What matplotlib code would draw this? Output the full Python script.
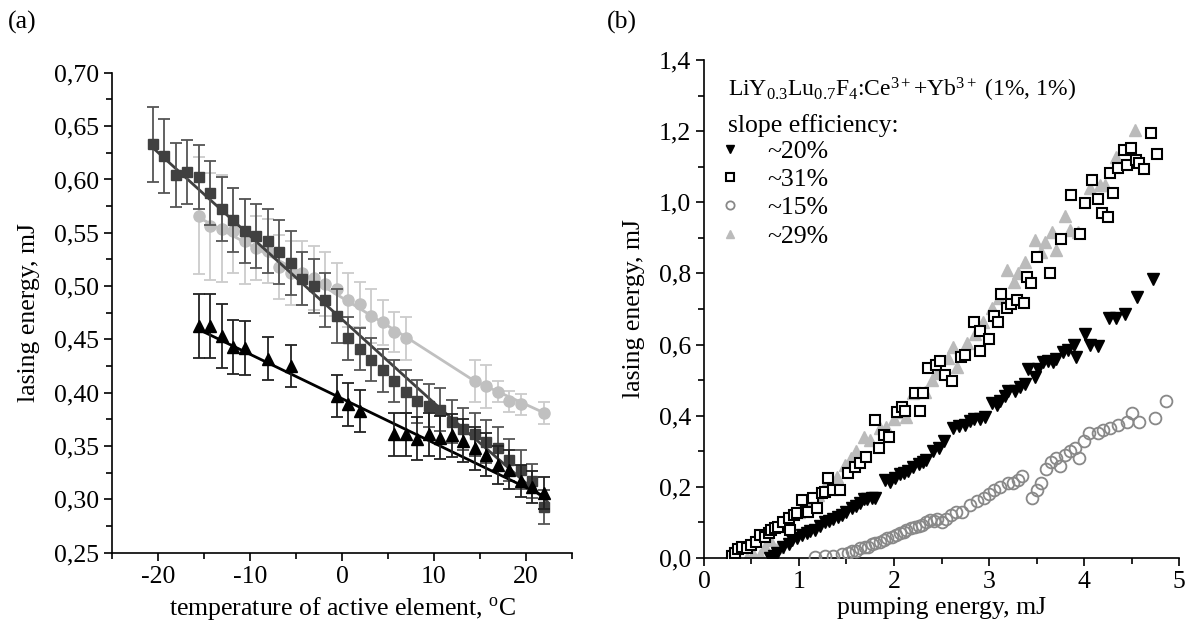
import numpy as np
import matplotlib
matplotlib.use("Agg")
import matplotlib.pyplot as plt
from matplotlib.ticker import MultipleLocator, FuncFormatter
from matplotlib.lines import Line2D

plt.rcParams['font.family'] = ['Liberation Serif', 'DejaVu Serif']
plt.rcParams['mathtext.fontset'] = 'custom'
plt.rcParams['mathtext.rm'] = 'Liberation Serif'
plt.rcParams['mathtext.it'] = 'Liberation Serif:italic'
plt.rcParams['axes.unicode_minus'] = False

# ---------- (a) lasing energy vs temperature ----------
sq_t = [-20.6, -19.3, -18.0, -16.8, -15.5, -14.3, -13.0, -11.8, -10.5, -9.3, -8.0, -6.8,
        -5.5, -4.3, -3.0, -1.8, -0.5, 0.7, 2.0, 3.2, 4.4, 5.7, 7.0, 8.2, 9.5, 10.7, 12.0,
        13.2, 14.4, 15.7, 17.0, 18.2, 19.5, 20.7, 22.0]
sq_e = [0.633, 0.622, 0.604, 0.607, 0.602, 0.587, 0.572, 0.562, 0.552, 0.547, 0.542, 0.532,
        0.522, 0.507, 0.500, 0.487, 0.472, 0.451, 0.441, 0.431, 0.421, 0.411, 0.401, 0.392,
        0.388, 0.384, 0.373, 0.366, 0.361, 0.354, 0.348, 0.337, 0.328, 0.317, 0.293]
sq_err = [0.035, 0.035, 0.03, 0.03, 0.03, 0.03, 0.03, 0.03, 0.03, 0.03, 0.03, 0.03, 0.03,
          0.025, 0.025, 0.025, 0.025, 0.02, 0.02, 0.02, 0.02, 0.02, 0.02, 0.02, 0.02, 0.02,
          0.02, 0.02, 0.02, 0.02, 0.02, 0.02, 0.018, 0.016, 0.016]
sq_fit_t = [-20.6, -4.5, 10.7, 22.3]
sq_fit_e = [0.630, 0.504, 0.385, 0.298]

ci_t = [-15.5, -14.3, -13.0, -11.8, -10.5, -9.3, -8.0, -6.8, -5.5, -4.3, -3.0, -1.8, -0.5,
        0.7, 2.0, 3.2, 4.4, 5.7, 7.0, 14.4, 15.7, 16.9, 18.2, 19.4, 22.0]
ci_e = [0.566, 0.556, 0.554, 0.552, 0.542, 0.536, 0.533, 0.518, 0.512, 0.512, 0.508, 0.502,
        0.497, 0.487, 0.483, 0.472, 0.466, 0.457, 0.451, 0.411, 0.406, 0.401, 0.392, 0.389, 0.381]
ci_err = [0.055, 0.05, 0.05, 0.04, 0.04, 0.03, 0.03, 0.03, 0.03, 0.03, 0.03, 0.03, 0.025,
          0.025, 0.021, 0.025, 0.021, 0.019, 0.02, 0.02, 0.02, 0.01, 0.01, 0.01, 0.01]
ci_fit_t = [-15.5, -4.5, 7.0, 14.4, 22.0]
ci_fit_e = [0.564, 0.513, 0.452, 0.411, 0.381]

tr_t = [-15.5, -14.3, -13.0, -11.8, -10.5, -8.0, -5.6, -0.6, 0.7, 2.0, 5.7, 7.0, 8.2, 9.5,
        10.7, 12.0, 13.2, 14.4, 15.7, 17.0, 18.2, 19.5, 20.7, 22.0]
tr_e = [0.463, 0.463, 0.453, 0.443, 0.442, 0.432, 0.425, 0.397, 0.389, 0.383, 0.361, 0.361,
        0.357, 0.361, 0.358, 0.360, 0.355, 0.348, 0.342, 0.332, 0.328, 0.317, 0.312, 0.306]
tr_err = [0.03, 0.03, 0.03, 0.025, 0.025, 0.02, 0.02, 0.02, 0.02, 0.02, 0.02, 0.02, 0.02,
          0.02, 0.02, 0.02, 0.02, 0.02, 0.02, 0.018, 0.018, 0.015, 0.015, 0.015]
tr_fit_t = [-15.5, 22.2]
tr_fit_e = [0.459, 0.302]

# ---------- (b) lasing energy vs pumping energy ----------
dn_x = [0.70, 0.74, 0.77, 0.83, 0.89, 0.93, 0.98, 1.03, 1.08, 1.12, 1.17, 1.22, 1.27, 1.32,
        1.36, 1.41, 1.45, 1.50, 1.56, 1.60, 1.64, 1.68, 1.72, 1.77, 1.80, 1.91, 1.96, 2.01,
        2.06, 2.11, 2.15, 2.20, 2.26, 2.30, 2.34, 2.41, 2.47, 2.53, 2.62, 2.68, 2.75, 2.80,
        2.84, 2.90, 2.96, 3.03, 3.08, 3.12, 3.17, 3.20, 3.27, 3.33, 3.38, 3.41, 3.48, 3.52,
        3.57, 3.62, 3.67, 3.71, 3.78, 3.83, 3.89, 3.92, 4.01, 4.06, 4.15, 4.26, 4.34, 4.43,
        4.56, 4.73]
dn_y = [0.0, 0.005, 0.015, 0.03, 0.04, 0.05, 0.055, 0.065, 0.07, 0.075, 0.08, 0.09, 0.1,
        0.105, 0.11, 0.115, 0.12, 0.13, 0.14, 0.145, 0.155, 0.165, 0.165, 0.17, 0.17, 0.22,
        0.215, 0.225, 0.235, 0.24, 0.245, 0.255, 0.265, 0.27, 0.275, 0.30, 0.31, 0.33, 0.365,
        0.37, 0.375, 0.385, 0.39, 0.39, 0.395, 0.435, 0.43, 0.44, 0.455, 0.47, 0.47, 0.48,
        0.49, 0.53, 0.51, 0.53, 0.55, 0.555, 0.55, 0.56, 0.58, 0.585, 0.60, 0.565, 0.63, 0.60,
        0.595, 0.675, 0.675, 0.685, 0.735, 0.785]

sq31_x = [0.30, 0.33, 0.36, 0.40, 0.45, 0.50, 0.55, 0.59, 0.64, 0.68, 0.71, 0.75, 0.78, 0.83,
          0.89, 0.91, 0.95, 0.98, 1.03, 1.07, 1.10, 1.15, 1.19, 1.24, 1.27, 1.31, 1.36, 1.43,
          1.52, 1.59, 1.64, 1.71, 1.80, 1.84, 1.89, 1.95, 2.03, 2.08, 2.12, 2.22, 2.27, 2.31,
          2.36, 2.44, 2.48, 2.54, 2.61, 2.70, 2.75, 2.84, 2.91, 2.91, 3.00, 3.05, 3.09, 3.13,
          3.19, 3.23, 3.29, 3.37, 3.40, 3.44, 3.50, 3.64, 3.76, 3.86, 3.96, 4.01, 4.08, 4.15,
          4.19, 4.25, 4.27, 4.30, 4.36, 4.42, 4.45, 4.49, 4.55, 4.58, 4.63, 4.70, 4.77]
sq31_y = [0.005, 0.015, 0.025, 0.03, 0.027, 0.037, 0.045, 0.065, 0.06, 0.07, 0.079, 0.085,
          0.088, 0.102, 0.112, 0.079, 0.12, 0.126, 0.163, 0.13, 0.13, 0.168, 0.14, 0.182,
          0.186, 0.224, 0.191, 0.191, 0.238, 0.257, 0.268, 0.283, 0.388, 0.308, 0.346, 0.339,
          0.411, 0.425, 0.414, 0.463, 0.414, 0.463, 0.533, 0.543, 0.555, 0.514, 0.498, 0.564,
          0.571, 0.664, 0.639, 0.583, 0.616, 0.68, 0.664, 0.742, 0.702, 0.714, 0.725, 0.718,
          0.791, 0.772, 0.845, 0.80, 0.896, 1.021, 0.911, 0.997, 1.063, 1.008, 0.969, 0.958,
          1.082, 1.025, 1.096, 1.147, 1.105, 1.152, 1.119, 1.111, 1.093, 1.194, 1.135]

c15_x = [1.17, 1.27, 1.36, 1.45, 1.52, 1.56, 1.60, 1.64, 1.69, 1.73, 1.77, 1.80, 1.85, 1.89,
         1.93, 1.98, 2.02, 2.06, 2.10, 2.13, 2.18, 2.22, 2.26, 2.29, 2.34, 2.38, 2.42, 2.45,
         2.50, 2.55, 2.60, 2.65, 2.72, 2.80, 2.87, 2.95, 3.00, 3.05, 3.12, 3.20, 3.25, 3.30,
         3.35, 3.45, 3.50, 3.55, 3.60, 3.65, 3.70, 3.75, 3.80, 3.85, 3.90, 3.95, 4.00, 4.05,
         4.15, 4.20, 4.27, 4.36, 4.45, 4.50, 4.58, 4.75, 4.86]
c15_y = [0.003, 0.005, 0.007, 0.01, 0.015, 0.02, 0.02, 0.027, 0.03, 0.032, 0.038, 0.043,
         0.045, 0.051, 0.055, 0.06, 0.065, 0.069, 0.072, 0.079, 0.083, 0.088, 0.09, 0.093,
         0.1, 0.107, 0.105, 0.109, 0.10, 0.11, 0.12, 0.13, 0.13, 0.15, 0.16, 0.17, 0.18, 0.19,
         0.20, 0.21, 0.21, 0.22, 0.23, 0.17, 0.19, 0.21, 0.25, 0.27, 0.28, 0.26, 0.29, 0.30,
         0.31, 0.28, 0.33, 0.35, 0.35, 0.36, 0.365, 0.374, 0.383, 0.407, 0.383, 0.393, 0.44]

t29_x = [0.45, 0.52, 0.59, 0.64, 0.70, 0.78, 0.86, 0.94, 1.00, 1.05, 1.12, 1.20, 1.29, 1.40,
         1.48, 1.55, 1.60, 1.68, 1.75, 1.85, 1.92, 2.00, 2.05, 2.13, 2.20, 2.33, 2.40, 2.45,
         2.57, 2.62, 2.66, 2.77, 2.85, 2.94, 3.03, 3.10, 3.19, 3.26, 3.30, 3.38, 3.48, 3.55,
         3.59, 3.66, 3.70, 3.80, 3.85, 3.94, 4.06, 4.17, 4.22, 4.34, 4.54]
t29_y = [0.0, 0.01, 0.008, 0.03, 0.05, 0.032, 0.09, 0.126, 0.13, 0.15, 0.163, 0.177, 0.215,
         0.229, 0.261, 0.28, 0.30, 0.341, 0.332, 0.365, 0.369, 0.39, 0.41, 0.397, 0.465, 0.468,
         0.50, 0.52, 0.561, 0.594, 0.538, 0.604, 0.63, 0.664, 0.702, 0.73, 0.81, 0.777, 0.80,
         0.833, 0.894, 0.86, 0.889, 0.917, 0.866, 0.96, 0.922, 0.917, 1.039, 1.049, 1.049,
         1.128, 1.203]

legend_labels = ["~20%", "~31%", "~15%", "~29%"]
header1 = r"LiY$_{0.3}$Lu$_{0.7}$F$_{4}$:Ce$^{3+}$+Yb$^{3+}$ (1%, 1%)"
header2 = "slope efficiency:"

FS = 18.5

fig = plt.figure(figsize=(11.92, 6.3), dpi=100)
axa = fig.add_axes([0.094, 0.1227, 0.3859, 0.7617])
axb = fig.add_axes([0.5906, 0.1143, 0.3985, 0.7905])

for ax in (axa, axb):
    ax.spines['top'].set_visible(False)
    ax.spines['right'].set_visible(False)
    for s in ('left', 'bottom'):
        ax.spines[s].set_linewidth(1.2)
    ax.tick_params(which='both', direction='out', labelsize=FS, width=1.2)
    ax.tick_params(which='major', length=6)
    ax.tick_params(which='minor', length=4)

# ----- panel (a)
axa.plot(ci_fit_t, ci_fit_e, color='#c0c0c0', lw=2, zorder=2)
axa.errorbar(ci_t, ci_e, yerr=ci_err, fmt='o', color='#c0c0c0', ecolor='#cccccc',
             ms=8, elinewidth=1.3, capsize=4, capthick=1.3, zorder=2)
axa.plot(sq_fit_t, sq_fit_e, color='#404040', lw=2, zorder=3)
axa.errorbar(sq_t, sq_e, yerr=sq_err, fmt='s', color='#404040', ecolor='#555555',
             ms=7, elinewidth=1.3, capsize=4, capthick=1.3, zorder=3)
axa.plot(tr_fit_t, tr_fit_e, color='black', lw=2, zorder=4)
axa.errorbar(tr_t, tr_e, yerr=tr_err, fmt='^', color='black', ecolor='#222222',
             ms=9, elinewidth=1.3, capsize=4, capthick=1.3, zorder=4)

axa.set_xlim(-25, 25)
axa.set_ylim(0.25, 0.70)
axa.xaxis.set_major_locator(MultipleLocator(10))
axa.xaxis.set_minor_locator(MultipleLocator(5))
axa.yaxis.set_major_locator(MultipleLocator(0.05))
axa.yaxis.set_minor_locator(MultipleLocator(0.025))
axa.xaxis.set_major_formatter(FuncFormatter(lambda v, p: f"{v:.0f}"))
axa.yaxis.set_major_formatter(FuncFormatter(lambda v, p: f"{v:.2f}".replace('.', ',')))
axa.set_xlabel(r"temperature of active element, $^{\mathrm{o}}$C", fontsize=FS, labelpad=5)
axa.set_ylabel("lasing energy, mJ", fontsize=FS, labelpad=10)

# ----- panel (b)
axb.plot(t29_x, t29_y, ls='none', marker='^', ms=9, color='#bbbbbb', mec='#bbbbbb', zorder=2)
axb.plot(c15_x, c15_y, ls='none', marker='o', ms=8.5, mfc='none', mec='#888888', mew=1.3, zorder=3)
axb.plot(dn_x, dn_y, ls='none', marker='v', ms=9, color='black', zorder=4)
axb.plot(sq31_x, sq31_y, ls='none', marker='s', ms=7.5, mfc='white', mec='black', mew=1.5, zorder=5)

axb.set_xlim(0, 5)
axb.set_ylim(0, 1.4)
axb.xaxis.set_major_locator(MultipleLocator(1))
axb.xaxis.set_minor_locator(MultipleLocator(0.5))
axb.yaxis.set_major_locator(MultipleLocator(0.2))
axb.yaxis.set_minor_locator(MultipleLocator(0.1))
axb.xaxis.set_major_formatter(FuncFormatter(lambda v, p: f"{v:.0f}"))
axb.yaxis.set_major_formatter(FuncFormatter(lambda v, p: f"{v:.1f}".replace('.', ',')))
axb.set_xlabel("pumping energy, mJ", fontsize=FS, labelpad=3)
axb.set_ylabel("lasing energy, mJ", fontsize=FS, labelpad=10)

axb.text(0.05, 0.94, header1, transform=axb.transAxes, fontsize=17, va='center', ha='left')
axb.text(0.05, 0.869, header2, transform=axb.transAxes, fontsize=FS, va='center', ha='left')
handles = [
    Line2D([], [], ls='none', marker='v', ms=9, color='black'),
    Line2D([], [], ls='none', marker='s', ms=7.5, mfc='white', mec='black', mew=1.5),
    Line2D([], [], ls='none', marker='o', ms=8.5, mfc='none', mec='#888888', mew=1.3),
    Line2D([], [], ls='none', marker='^', ms=9, color='#bbbbbb'),
]
axb.legend(handles, legend_labels, loc='upper left', bbox_to_anchor=(0.027, 0.839),
           frameon=False, fontsize=FS, handlelength=1.0, handletextpad=0.95,
           labelspacing=0.2, borderpad=0, borderaxespad=0, markerscale=0.7)

fig.text(8 / 1192, 1 - 22 / 630, "(a)", fontsize=FS, va='center', ha='left')
fig.text(607 / 1192, 1 - 22 / 630, "(b)", fontsize=FS, va='center', ha='left')

fig.savefig("out.png", dpi=100)
